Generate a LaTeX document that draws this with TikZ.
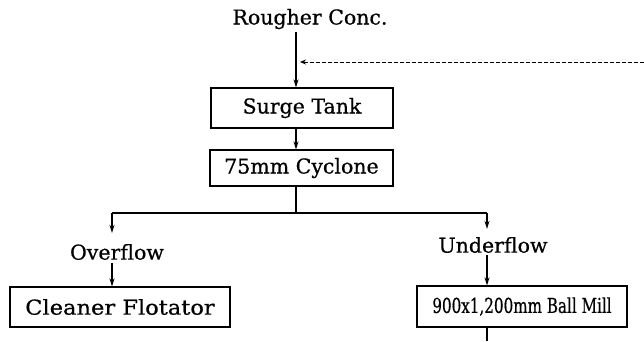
\documentclass[tikz,border=0pt]{standalone}
\usepackage{fontspec}
\usepackage{graphicx}
\setmainfont{DejaVu Serif}[FakeBold=0.6]
\usetikzlibrary{arrows.meta,calc}
\begin{document}
\begin{tikzpicture}[x=1pt,y=-1pt,
  lbl/.style={font=\fontsize{20.5}{22}\selectfont, inner sep=0pt},
  box/.style={draw, line width=1.1pt, font=\fontsize{20.5}{22}\selectfont, inner sep=0pt},
  flow/.style={line width=1.7pt},
  tip/.style={-{Stealth[length=8pt,width=5pt]}},
  recyc/.style={dashed, line width=0.8pt, dash pattern=on 4pt off 2pt, -{Stealth[length=6pt,width=5pt]}}
]
\useasboundingbox (0,0) rectangle (644,341);

\node[lbl] (rc) at (310,19) {Rougher Conc.};
\node[box, minimum width=182pt, minimum height=40pt] (st) at (302,108) {Surge Tank};
\node[box, minimum width=183pt, minimum height=36pt] (cy) at (301.5,168) {75mm Cyclone};
\node[lbl] (ov) at (117,252) {Overflow};
\node[lbl] (uf) at (493,245) {Underflow};
\node[box, minimum width=220pt, minimum height=40pt] (cf) at (120,307) {\scalebox{1.1}[1]{Cleaner Flotator}};
\node[box, minimum width=210pt, minimum height=41pt] (bm) at (522,306.5) {\scalebox{0.74}[1]{900x1,200mm Ball Mill}};

\coordinate (j) at (296,213);
\coordinate (jl) at (112,213);
\coordinate (jr) at (487,213);
\coordinate (rcy) at (644,62);
\coordinate (rin) at (300,62);
\coordinate (out) at (487,341);

% feed
\draw[flow, tip] (296,32) -- (st.north -| j);
\draw[recyc] (rcy) -- (rin);
% surge tank to cyclone
\draw[flow, tip] (st.south -| j) -- (cy.north -| j);
% cyclone split
\draw[flow] (cy.south -| j) -- (j);
\draw[line width=1.1pt] (jl) -- (jr);
\draw[flow, tip, shorten >=11pt] (jl) -- (jl |- ov.north);
\draw[flow, tip, shorten <=3pt] (jl |- ov.south) -- (cf.north -| jl);
\draw[flow, tip, shorten >=8pt] (jr) -- (jr |- uf.north);
\draw[flow, tip, shorten <=2pt] (jr |- uf.south) -- (bm.north -| jr);
\draw[flow] (bm.south -| jr) -- (out);
\end{tikzpicture}
\end{document}
